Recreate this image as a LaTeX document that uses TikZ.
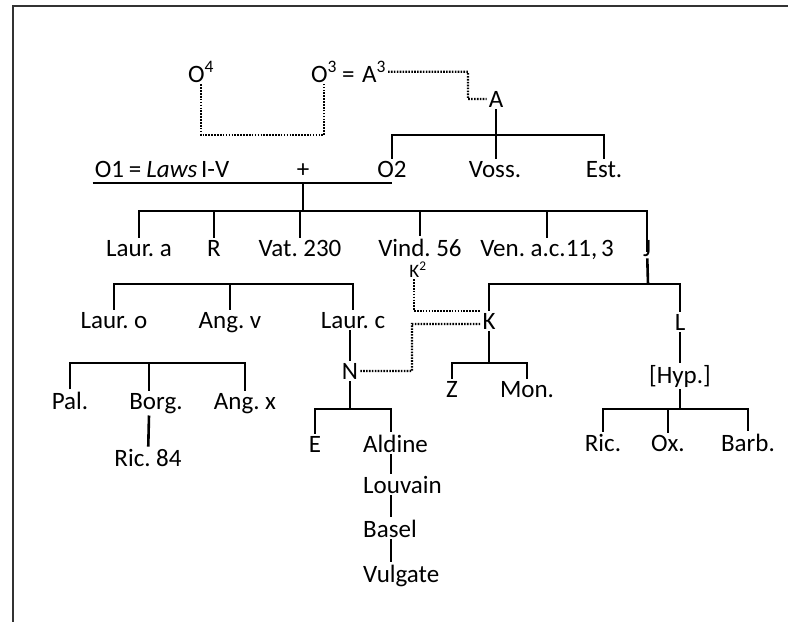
\documentclass[tikz,border=0pt]{standalone}
\usepackage{fontspec}
\setmainfont{Carlito}[WordSpace=0.65]
\usetikzlibrary{positioning}

\tikzstyle{ms} = [anchor=base, inner sep=2pt]
\tikzstyle{edge} = [line width=2.6pt]
\tikzstyle{dots} = [line width=2.2pt, dash pattern=on 1.6pt off 1.3pt]
\tikzstyle{frame} = [line width=1.5pt, black!80]

\begin{document}
\begin{tikzpicture}[x=1pt, y=-1pt, font=\fontsize{25}{30}\selectfont]
\useasboundingbox (0,0) rectangle (788,622);
\draw [frame] (788,6) -- (13,6) -- (13,622);

% upper part
\node (O4) [ms] at (201,82) {O\textsuperscript{4}};
\node (O3) [ms] at (324,82) {O\textsuperscript{3}};
\node (A3) [ms] at (364,82) {=\hspace{.3em}A\textsuperscript{3}};
\node (A) [ms] at (496,107) {A};
\node (O1) [ms] at (162,177) {O1\hspace{.2em}=\hspace{.2em}\textit{Laws} I-V};
\node (plus) [ms] at (303,177) {+};
\node (O2) [ms] at (392,177) {O2};
\node (voss) [ms] at (495,177) {Voss.};
\node (est) [ms] at (604,177) {Est.};

\node (laura) [ms] at (139,256) {Laur. a};
\node (R) [ms] at (214,256) {R};
\node (vat) [ms] at (300,256) {Vat. 230};
\node (vind) [ms] at (420,256) {Vind. 56};
\node (ven) [ms] at (547,256) {Ven. a.c.11, 3};
\node (J) [ms] at (647,256) {J};
\node (K2) [ms, font=\fontsize{19}{22}\selectfont] at (418,277) {K\textsuperscript{2}};

% lower part
\node (lauro) [ms] at (114,328) {Laur. o};
\node (angv) [ms] at (230,328) {Ang. v};
\node (laurc) [ms] at (353,328) {Laur. c};
\node (K) [ms] at (489,329) {K};
\node (L) [ms] at (680,330) {L};
\node (N) [ms] at (350,379) {N};
\node (hyp) [ms] at (680,383) {[Hyp.]};
\node (Z) [ms] at (452,397) {Z};
\node (mon) [ms] at (527,397) {Mon.};
\node (pal) [ms] at (70,409) {Pal.};
\node (borg) [ms] at (156,409) {Borg.};
\node (angx) [ms] at (245,409) {Ang. x};
\node (ric84) [ms] at (148,466) {Ric. 84};
\node (E) [ms] at (315,452) {E};
\node (aldine) [ms, anchor=base west] at (361,452) {Aldine};
\node (louvain) [ms, anchor=base west] at (361,493) {Louvain};
\node (basel) [ms, anchor=base west] at (361,537) {Basel};
\node (vulgate) [ms, anchor=base west] at (361,582) {Vulgate};
\node (ric) [ms] at (603,451) {Ric.};
\node (ox) [ms] at (668,451) {Ox.};
\node (barb) [ms] at (748,451) {Barb.};

\coordinate (ba) at (496,135);
\coordinate (ul) at (303,183);
\coordinate (b2) at (303,211);
\coordinate (bj) at (648,284);
\coordinate (bl) at (230,284);
\coordinate (bk) at (489,363);
\coordinate (bb) at (149,363);
\coordinate (bn) at (350,409);
\coordinate (bh) at (680,409);
\coordinate (ch) at (391,0);
\coordinate (lo) at (260,135);
\coordinate (ka) at (468,99);
\coordinate (nk) at (412,324);

\draw [edge] (A) -- (ba);
\draw [edge] (ba) -| (O2);
\draw [edge] (ba) -| (est);
\draw [edge] (ba) -- (ba |- voss.north);
\draw [edge] (O1.south west |- ul) -- (O2 |- ul);
\draw [edge] (ul) -- (b2);
\draw [edge] (b2) -| (laura);
\draw [edge] (b2) -| (R);
\draw [edge] (b2) -| (vat);
\draw [edge] (b2) -| (vind);
\draw [edge] (b2) -| (ven);
\draw [edge] (b2) -| ([yshift=-14pt]J.north);
\draw [edge] (J) -- (bj);
\draw [edge] (bj) -| (K);
\draw [edge] (bj) -| (L);
\draw [edge] (lauro) |- (bl) -| (laurc);
\draw [edge] (bl) -- (angv);
\draw [edge] (N |- laurc.south) -- (N);
\draw [edge] (N) -- (bn) -| (E);
\draw [edge] (bn) -| (aldine.north -| ch);
\draw [edge] (aldine.south -| ch) -- (louvain.north -| ch);
\draw [edge] (louvain.south -| ch) -- (basel.north -| ch);
\draw [edge] (basel.south -| ch) -- (vulgate.north -| ch);
\draw [edge] (K) -- (bk) -| (Z);
\draw [edge] (bk) -| (mon);
\draw [edge] (L) -- (hyp);
\draw [edge] (hyp) -- (bh) -| (ric);
\draw [edge] (bh) -| (barb);
\draw [edge] (bh) -| (ox);
\draw [edge] (pal) |- (bb) -| (angx);
\draw [edge] (bb) -- (bb |- borg.north);
\draw [edge] (bb |- borg.south) -- (ric84);

% dotted links
\draw [dots] (O4) |- (lo) -| (O3);
\draw [dots] (A3) -| (ka) -- (A);
\draw [dots] ([xshift=-4pt]K2.south) |- ([yshift=10pt]K.west);
\draw [dots] (N) -| (nk) -- ([yshift=-3pt]K.west);

\end{tikzpicture}
\end{document}
